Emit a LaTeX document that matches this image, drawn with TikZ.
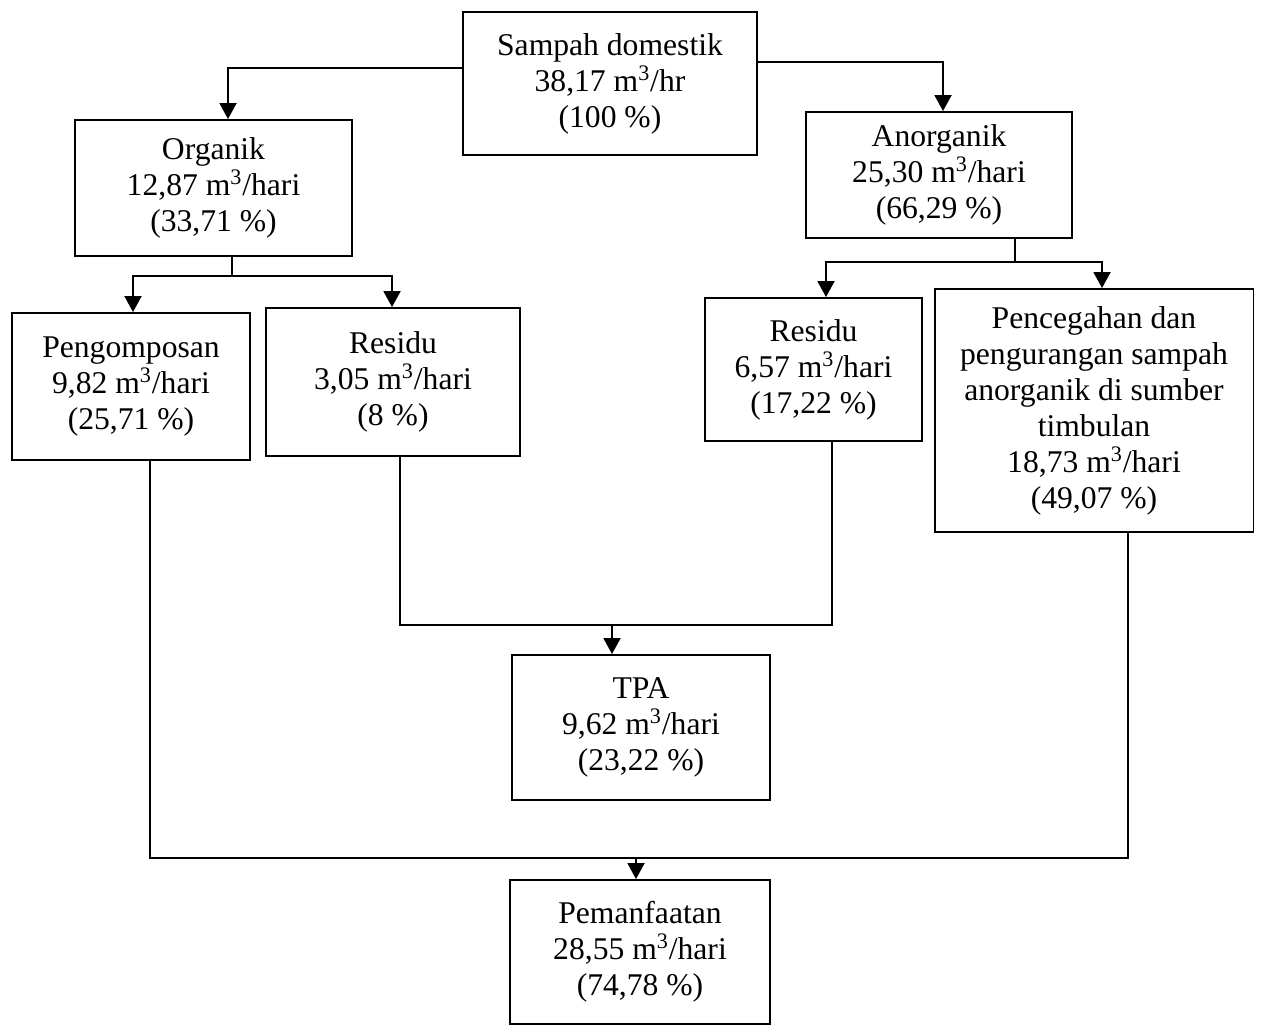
\documentclass[tikz,border=0pt]{standalone}
\usepackage{fontspec}
\setmainfont{Liberation Serif}
\usetikzlibrary{arrows.meta}

\tikzset{
  box/.style={draw, line width=1.1pt, align=center, inner sep=0pt,
    font=\fontsize{18}{20.5}\selectfont},
  flow/.style={line width=1.1pt},
  arr/.style={flow, -{Triangle[width=0.34cm, length=0.32cm]}}
}
\newcommand{\mk}{m\textsuperscript{3}}

\begin{document}
\begin{tikzpicture}[x=0.02cm, y=-0.02cm]
  \useasboundingbox (0,0) rectangle (1267,1026);

  % top level
  \node[box, minimum width=5.88cm, minimum height=2.86cm] (dom) at (610,83.5)
    {Sampah domestik\\38,17 \mk/hr\\(100 \%)};
  \node[box, minimum width=5.54cm, minimum height=2.72cm] (org) at (213.5,188)
    {Organik\\12,87 \mk/hari\\(33,71 \%)};
  \node[box, minimum width=5.32cm, minimum height=2.52cm] (anorg) at (939,175)
    {Anorganik\\25,30 \mk/hari\\(66,29 \%)};

  % second level
  \node[box, minimum width=4.76cm, minimum height=2.94cm] (kompos) at (131,386.5)
    {Pengomposan\\9,82 \mk/hari\\(25,71 \%)};
  \node[box, minimum width=5.08cm, minimum height=2.96cm] (resorg) at (393,382)
    {Residu\\3,05 \mk/hari\\(8 \%)};
  \node[box, minimum width=4.34cm, minimum height=2.86cm] (resanorg) at (813.5,369.5)
    {Residu\\6,57 \mk/hari\\(17,22 \%)};
  \node[box, minimum width=6.38cm, minimum height=4.86cm] (cegah) at (1094,410.5)
    {Pencegahan dan\\pengurangan sampah\\anorganik di sumber\\timbulan\\18,73 \mk/hari\\(49,07 \%)};

  % end points
  \node[box, minimum width=5.16cm, minimum height=2.90cm] (tpa) at (641,727.5)
    {TPA\\9,62 \mk/hari\\(23,22 \%)};
  \node[box, minimum width=5.20cm, minimum height=2.88cm] (manfaat) at (640,952)
    {Pemanfaatan\\28,55 \mk/hari\\(74,78 \%)};

  % split of sampah domestik
  \coordinate (dl) at (463,68);
  \coordinate (dr) at (757,62);
  \draw[arr] (dl) -| (org.north -| 228,0);
  \draw[arr] (dr) -| (anorg.north -| 943,0);

  % split of organik
  \coordinate (jo) at (232,276);
  \draw[flow] (org.south -| jo) -- (jo);
  \draw[arr] (jo) -| (kompos.north -| 133,0);
  \draw[arr] (jo) -| (resorg.north -| 392,0);

  % split of anorganik
  \coordinate (ja) at (1015,262);
  \draw[flow] (anorg.south -| ja) -- (ja);
  \draw[arr] (ja) -| (resanorg.north -| 826,0);
  \draw[arr] (ja) -| (cegah.north -| 1102,0);

  % residu to TPA
  \coordinate (jt) at (612,625);
  \draw[flow] (resorg.south -| 400,0) |- (jt) -| (resanorg.south -| 832,0);
  \draw[arr] (jt) -- (tpa.north -| jt);

  % kompos and pencegahan to pemanfaatan
  \coordinate (jm) at (636,858);
  \draw[flow] (kompos.south -| 150,0) |- (jm) -| (cegah.south -| 1128,0);
  \draw[arr] (jm) -- (manfaat.north -| jm);

\end{tikzpicture}
\end{document}
